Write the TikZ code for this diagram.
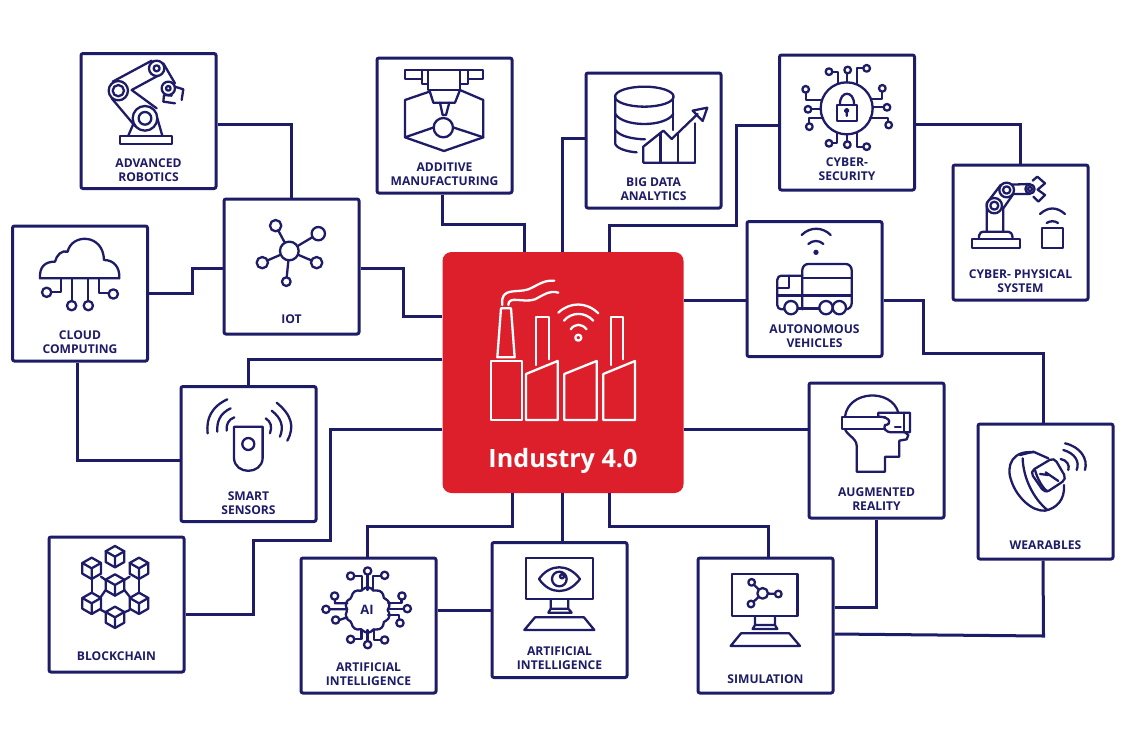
\documentclass[tikz,border=0pt]{standalone}
\usepackage{fontspec}
\setmainfont{Open Sans}
\usepackage{tikz}
\usetikzlibrary{positioning}
\definecolor{navy}{HTML}{1E1C66}
\definecolor{hubred}{HTML}{DC1F2B}
\tikzstyle{tile}=[draw=navy, fill=white, line width=3pt, minimum size=135pt, rounded corners=2pt, inner sep=0pt]
\tikzstyle{hubtile}=[fill=hubred, minimum size=241pt, rounded corners=9pt, inner sep=0pt]
\tikzstyle{link}=[draw=navy, line width=3pt, line join=miter]
\tikzstyle{caption}=[text=navy, font=\fontsize{12.1}{14.3}\selectfont\bfseries, align=center, inner sep=0pt, outer sep=0pt]
\tikzstyle{icon}=[draw=navy, line width=2.3pt, line join=round, line cap=round]
\tikzstyle{hubicon}=[draw=white, line width=2.3pt, line join=round, line cap=round]
\tikzstyle{iconframe}=[shift={(#1)}, x=0.3333pt, y=-0.3333pt]

\begin{document}
\begin{tikzpicture}[x=1pt, y=-1pt]
  \useasboundingbox[fill=white] (0,0) rectangle (1123,748);

  \node[hubtile] (hub) at (563,372.5) {};
  \node[tile] (robotics) at (148.5,121) {};
  \node[tile] (iot) at (291.5,266.5) {};
  \node[tile] (cloud) at (80,293.5) {};
  \node[tile] (additive) at (444.5,125.5) {};
  \node[tile] (bigdata) at (653.5,140.5) {};
  \node[tile] (cyber) at (847,122.5) {};
  \node[tile] (physical) at (1020.5,232.5) {};
  \node[tile] (vehicles) at (814.5,289) {};
  \node[tile] (reality) at (876.5,450.5) {};
  \node[tile] (wearables) at (1045.5,491.5) {};
  \node[tile] (simulation) at (765.5,625.5) {};
  \node[tile] (vision) at (559.5,610) {};
  \node[tile] (brain) at (368.5,625.5) {};
  \node[tile] (chain) at (116.5,604.5) {};
  \node[tile] (sensors) at (248.5,454) {};

  \node[caption, above=8.5pt of robotics.south] (roboticscap) {ADVANCED\\ROBOTICS};
  \node[caption, above=12pt of iot.south] (iotcap) {IOT};
  \node[caption, above=9pt of cloud.south] (cloudcap) {CLOUD\\COMPUTING};
  \node[caption, above=9pt of additive.south] (additivecap) {ADDITIVE\\MANUFACTURING};
  \node[caption, above=8.5pt of bigdata.south] (bigdatacap) {BIG DATA\\ANALYTICS};
  \node[caption, above=11pt of cyber.south] (cybercap) {CYBER-\\SECURITY};
  \node[caption, above=9pt of physical.south] (physicalcap) {CYBER- PHYSICAL\\SYSTEM};
  \node[caption, above=10pt of vehicles.south] (vehiclescap) {AUTONOMOUS\\VEHICLES};
  \node[caption, above=9pt of reality.south] (realitycap) {AUGMENTED\\REALITY};
  \node[caption, above=11pt of wearables.south] (wearablescap) {WEARABLES};
  \node[caption, above=11pt of simulation.south] (simulationcap) {SIMULATION};
  \node[caption, above=9pt of vision.south] (visioncap) {ARTIFICIAL\\INTELLIGENCE};
  \node[caption, above=9pt of brain.south] (braincap) {ARTIFICIAL\\INTELLIGENCE};
  \node[caption, above=12.5pt of chain.south] (chaincap) {BLOCKCHAIN};
  \node[caption, above=8pt of sensors.south] (sensorscap) {SMART\\SENSORS};
  \node[above=19.5pt of hub.south, inner sep=0pt, text=white, font=\fontsize{25.2}{28}\selectfont\bfseries] (hubcap) {Industry 4.0};

  \draw[link] ([yshift=-3pt]robotics.east) -| (iot.north);
  \draw[link] (cloud.east) -- ++(43,0) |- ([yshift=-1.5pt]iot.west);
  \draw[link] ([yshift=-1.5pt]iot.east) -- ++(43,0) |- ([yshift=56.5pt]hub.west);
  \draw[link] ([xshift=-2.5pt]additive.south) -- ++(0,30) -| ([xshift=-39pt]hub.north);
  \draw[link] ([yshift=2.5pt]bigdata.west) -| ([xshift=-1pt]hub.north);
  \draw[link] ([yshift=-2.5pt]cyber.west) -- ++(-42,0) -- ++(0,100) -| ([xshift=46pt]hub.north);
  \draw[link] ([yshift=-1.5pt]cyber.east) -| (physical.north);
  \draw[link] ([yshift=-11pt]vehicles.west) -- ([yshift=72.5pt]hub.east);
  \draw[link] ([yshift=-11pt]vehicles.east) -- ++(40,0) -- ++(0,53) -| ([xshift=-2.5pt]wearables.north);
  \draw[link] ([yshift=21.5pt]reality.west) -- ([yshift=-56.5pt]hub.east);
  \draw[link] ([yshift=13.5pt]hub.west) -| (sensors.north);
  \draw[link] ([yshift=-56.5pt]hub.west) -- ++(-112,0) -- ++(0,111) -- ++(-77,0) |- ([yshift=-9.5pt]chain.east);
  \draw[link] ([xshift=-3pt]cloud.south) |- ([yshift=-6pt]sensors.west);
  \draw[link] ([xshift=-51pt]hub.south) -- ++(0,33) -| ([xshift=-1.5pt]brain.north);
  \draw[link] ([xshift=-1pt]hub.south) -- ([xshift=2.5pt]vision.north);
  \draw[link] ([xshift=46pt]hub.south) -- ++(0,33) -| ([xshift=2.5pt]simulation.north);
  \draw[link] ([yshift=15.5pt]brain.east) -- (vision.west);
  \draw[link] ([yshift=18.5pt]simulation.east) -| (reality.south);
  \draw[link] ([yshift=-8.5pt]simulation.east) -- ++(209,2) -- ([xshift=-2.5pt]wearables.south);

  % robot arm
  \begin{scope}[iconframe={0,40}]
    \draw[icon] (360,287) rectangle (515,312);
    \draw[icon] (385,287) -- (405,240) (487,287) -- (472,235);
    \draw[icon] (338,125) -- (455,62) (395,150) -- (478,105);
    \draw[icon] (335,175) -- (405,258) (395,150) -- (470,205);
    \draw[icon] (490,70) -- (525,130);
    \draw[icon, fill=white] (505,145) circle (20);
    \draw[icon] (505,145) circle (7);
    \draw[icon, fill=white] (435,235) circle (37);
    \draw[icon] (435,235) circle (19);
    \draw[icon, fill=white] (355,152) circle (29);
    \draw[icon] (355,152) circle (17);
    \draw[icon, fill=white] (470,85) circle (23);
    \draw[icon] (470,85) circle (9);
    \draw[icon] (515,167) -- (492,165) -- (490,185) -- (525,190);
    \draw[icon] (525,140) -- (550,148) -- (545,180);
  \end{scope}

  % network
  \begin{scope}[iconframe={0,40}]
    \draw[icon] (868,633) -- (827,557) (868,633) -- (955,581) (868,633) -- (787,668);
    \draw[icon] (868,633) -- (950,668) (868,633) -- (859,725);
    \foreach \px/\py/\pr in {868/633/28, 827/557/17, 955/581/20, 787/668/17, 950/668/17, 859/725/13}
      \draw[icon, fill=white] (\px,\py) circle (\pr);
  \end{scope}

  % cloud
  \begin{scope}[iconframe={0,40}]
    \draw[icon] (120,715) -- (358,715) .. controls (360,680) and (340,660) .. (312,660)
      .. controls (310,580) and (215,580) .. (203,635) .. controls (185,630) and (170,645) .. (165,665)
      .. controls (135,665) and (118,680) .. (120,715) -- cycle;
    \draw[icon] (183,715) -- (183,757) -- (153,757) (217,715) -- (217,783);
    \draw[icon] (265,715) -- (265,783) (297,715) -- (297,760) -- (326,760);
    \foreach \px/\py in {140/757, 215/797, 265/797, 340/762}
      \draw[icon] (\px,\py) circle (14);
  \end{scope}

  % printer
  \begin{scope}[iconframe={370,40}]
    \draw[icon] (105,90) rectangle (340,118);
    \draw[icon, fill=white] (155,90) -- (155,132) -- (295,132) -- (295,90) -- cycle;
    \draw[icon, fill=white] (175,90) rectangle (270,150);
    \draw[icon] (178,150) -- (190,188) -- (255,188) -- (270,150);
    \draw[icon] (210,188) -- (218,225) -- (228,225) -- (238,188);
    \draw[icon] (220,263) circle (29);
    \draw[icon] (178,155) -- (105,180) -- (105,292) -- (222,333) -- (340,292) -- (340,180) -- (270,150);
    \draw[icon] (105,292) -- (192,262) (340,292) -- (249,262);
  \end{scope}

  % database
  \begin{scope}[iconframe={370,40}]
    \draw[icon] (823,170) ellipse (88 and 30);
    \draw[icon] (736,170) -- (736,312) .. controls (740,325) and (770,335) .. (800,337);
    \draw[icon] (910,170) -- (910,270);
    \draw[icon] (736,222) .. controls (760,262) and (885,262) .. (910,222);
    \draw[icon] (736,270) .. controls (750,290) and (790,297) .. (825,298);
    \draw[icon] (820,368) -- (975,368) (820,368) -- (820,320) -- (880,272) -- (905,297) -- (983,222);
    \draw[icon] (968,212) -- (1012,203) -- (998,243) -- cycle;
    \draw[icon] (872,280) -- (872,368) (925,280) -- (925,368) (975,250) -- (975,368);
  \end{scope}

  % padlock
  \begin{scope}[iconframe={740,40}]
    \draw[icon] (320,205) circle (78);
    \draw[icon] (292,195) rectangle (350,242);
    \draw[icon] (300,195) .. controls (298,150) and (344,150) .. (342,195);
    \draw[icon] (320,212) circle (5) (320,217) -- (320,228);
    \draw[icon] (320,127) -- (320,100) (293,130) -- (293,97) -- (278,97) (350,130) -- (350,85) -- (369,85);
    \draw[icon] (320,283) -- (320,304) (292,280) -- (292,310) -- (278,310) (350,280) -- (350,320) -- (369,320);
    \draw[icon] (243,180) -- (197,180) -- (197,158) (243,208) -- (215,208) (250,235) -- (208,235) -- (208,250);
    \draw[icon] (397,178) -- (427,178) -- (427,155) (398,202) -- (430,202) (390,235) -- (445,235) -- (445,245);
    \foreach \px/\py in {323/90, 267/95, 380/85, 322/314, 267/310, 380/320, 197/148, 204/208, 208/260, 427/145, 441/202, 446/255}
      \draw[icon] (\px,\py) circle (10);
  \end{scope}

  % small arm and tagged box
  \begin{scope}[iconframe={740,40}]
    \draw[icon] (695,597) rectangle (840,625);
    \draw[icon] (717,597) -- (717,587) .. controls (717,578) and (725,575) .. (735,575) -- (800,575)
      .. controls (812,575) and (818,580) .. (818,597);
    \draw[icon] (740,575) -- (740,490) -- (782,435) -- (870,432) (790,575) -- (790,505) -- (820,462) -- (870,462);
    \draw[icon, fill=white] (763,497) circle (23);
    \draw[icon] (763,497) circle (12);
    \draw[icon, fill=white] (800,450) circle (22);
    \draw[icon] (800,450) circle (11);
    \draw[icon, fill=white] (870,447) circle (14);
    \draw[icon] (870,447) circle (6);
    \draw[icon] (878,422) -- (892,410) -- (915,430) -- (893,449) -- (915,465) -- (895,485) -- (880,470);
    \draw[icon] (905,565) rectangle (968,625);
    \draw[icon] (920,549) .. controls (930,542) and (945,542) .. (954,549);
    \draw[icon] (900,522) .. controls (925,500) and (950,500) .. (975,522);
  \end{scope}

  % truck
  \begin{scope}[iconframe={740,40}]
    \fill[navy] (228,637) circle (8);
    \draw[icon] (205,612) .. controls (218,600) and (238,600) .. (250,612);
    \draw[icon] (185,585) .. controls (210,560) and (247,560) .. (272,585);
    \draw[icon, rounded corners=6pt] (187,808) -- (187,672) -- (335,672) -- (335,808) -- (320,808);
    \draw[icon] (187,715) -- (335,715) (187,767) -- (335,767);
    \draw[icon, rounded corners=4pt] (187,707) -- (112,707) -- (112,808) -- (135,808);
    \draw[icon] (148,707) -- (148,745) -- (112,745) (112,767) -- (187,767);
    \draw[icon] (172,806) -- (238,806);
    \foreach \px in {153,258,298}
      \draw[icon, fill=white] (\px,803) circle (20);
  \end{scope}

  % factory
  \begin{scope}[iconframe={440,250}]
    \draw[hubicon] (172,322) -- (183,175) -- (213,175) -- (224,322) -- cycle;
    \draw[hubicon] (152,333) rectangle (245,510);
    \draw[hubicon] (258,510) -- (258,372) -- (353,333) -- (353,510) -- cycle;
    \draw[hubicon] (373,510) -- (373,372) -- (470,333) -- (470,510) -- cycle;
    \draw[hubicon] (490,510) -- (490,372) -- (585,333) -- (585,510) -- cycle;
    \draw[hubicon] (287,345) -- (287,200) -- (327,200) -- (327,328);
    \draw[hubicon] (512,345) -- (512,200) -- (550,200) -- (550,328);
    \draw[hubicon] (187,165) .. controls (180,110) and (230,130) .. (265,118) .. controls (295,105) and (310,90) .. (343,92);
    \draw[hubicon] (205,165) .. controls (205,135) and (250,160) .. (285,148) .. controls (310,135) and (330,120) .. (355,128);
    \draw[hubicon] (415,263) circle (9);
    \draw[hubicon] (392,238) .. controls (405,220) and (425,220) .. (440,238);
    \draw[hubicon] (372,212) .. controls (395,185) and (435,185) .. (460,212);
    \draw[hubicon] (355,188) .. controls (390,155) and (440,155) .. (475,190);
  \end{scope}

  % sensor
  \begin{scope}[iconframe={40,380}]
    \draw[icon] (582,140) -- (668,140) -- (668,235) .. controls (665,285) and (585,285) .. (582,235) -- cycle;
    \draw[icon] (625,192) circle (18);
    \draw[icon] (583,112) .. controls (565,118) and (558,135) .. (560,152);
    \draw[icon] (572,85) .. controls (540,100) and (530,125) .. (532,155);
    \draw[icon] (562,58) .. controls (515,80) and (498,115) .. (503,160);
    \draw[icon] (677,115) .. controls (693,125) and (697,140) .. (690,160);
    \draw[icon] (695,92) .. controls (725,115) and (732,140) .. (720,170);
    \draw[icon] (710,68) .. controls (755,105) and (765,140) .. (742,182);
  \end{scope}

  % cubes
  \begin{scope}[iconframe={40,380}]
    \draw[icon] (155,595) -- (155,640) (297,595) -- (297,640);
    \draw[icon] (183,590) -- (197,600) (253,600) -- (269,590) (183,650) -- (197,630);
    \draw[icon] (253,630) -- (269,650) (183,690) -- (197,697) (253,697) -- (269,690);
    \foreach \cx/\cy in {225/530, 155/565, 297/565, 225/615, 155/670, 297/670, 225/712} {
      \draw[icon] (\cx,\cy-32) -- ++(28,16) -- ++(0,32) -- ++(-28,16) -- ++(-28,-16) -- ++(0,-32) -- cycle;
      \draw[icon] (\cx-28,\cy-16) -- (\cx,\cy) -- (\cx+28,\cy-16) (\cx,\cy) -- (\cx,\cy+32);
    }
  \end{scope}

  % brain
  \begin{scope}[iconframe={40,380}]
    \draw[icon, fill=white, shift={(983,690)}] plot[smooth cycle, samples=49, domain=0:352.5] (\x:{60+8*abs(sin(5*\x))});
    \node[text=navy, inner sep=0pt, font=\fontsize{13}{14}\selectfont\bfseries] (brainai) at (981,690) {AI};
    \draw[icon] (983,585) -- (983,630) (967,632) -- (967,588) -- (945,588) (1000,632) -- (1000,588) -- (1022,588);
    \draw[icon] (983,750) -- (983,783) (965,748) -- (965,778) -- (945,778) (1003,748) -- (1003,780) -- (1022,780);
    \draw[icon] (922,670) -- (885,670) -- (885,660) (922,688) -- (870,688) (922,712) -- (898,720);
    \draw[icon] (1044,668) -- (1085,668) -- (1085,660) (1044,686) -- (1090,686) (1044,705) -- (1078,705) -- (1078,718);
    \foreach \px/\py in {983/573, 932/588, 1034/586, 983/794, 932/778, 1034/780, 884/648, 858/688, 887/720, 1086/648, 1102/686, 1080/729}
      \draw[icon] (\px,\py) circle (11);
  \end{scope}

  % monitor with eye
  \begin{scope}[iconframe={480,530}]
    \draw[icon] (138,83) rectangle (338,208);
    \draw[icon] (212,208) -- (212,236) -- (205,248) -- (275,248) -- (265,236) -- (265,208) (212,236) -- (265,236);
    \draw[icon] (133,300) -- (343,300) -- (312,262) -- (165,262) -- cycle;
    \draw[icon] (177,147) .. controls (210,100) and (265,100) .. (300,147) .. controls (265,195) and (210,195) .. (177,147) -- cycle;
    \draw[icon] (238,147) circle (22) (246,139) circle (6);
  \end{scope}

  % monitor with graph
  \begin{scope}[iconframe={480,530}]
    \draw[icon] (757,133) rectangle (953,258);
    \draw[icon] (825,258) -- (825,285) -- (818,297) -- (892,297) -- (885,285) -- (885,258) (825,285) -- (885,285);
    \draw[icon] (752,348) -- (960,348) -- (928,310) -- (783,310) -- cycle;
    \draw[icon] (848,190) -- (815,157) (848,190) -- (813,222) (848,190) -- (895,192);
    \draw[icon, fill=white] (848,190) circle (16);
    \draw[icon, fill=white] (815,157) circle (10);
    \draw[icon, fill=white] (813,222) circle (10);
    \draw[icon, fill=white] (895,192) circle (10);
  \end{scope}

  % headset
  \begin{scope}[iconframe={800,375}]
    \draw[icon] (135,125) .. controls (145,45) and (275,40) .. (295,113);
    \draw[icon] (135,162) .. controls (140,180) and (170,190) .. (170,212) -- (170,290) -- (255,290) -- (255,245) -- (298,245) -- (298,197) -- (320,193) -- (325,180) -- (315,172);
    \draw[icon] (255,125) -- (127,125) -- (127,162) -- (255,162);
    \draw[icon] (235,125) -- (235,113) -- (330,113) -- (330,172) -- (278,172)
      .. controls (255,172) and (250,160) .. (255,150) .. controls (275,150) and (275,125) .. (235,125) -- cycle;
    \draw[icon] (312,113) -- (312,172) (285,157) -- (302,157);
  \end{scope}

  % watch
  \begin{scope}[iconframe={800,375}]
    \draw[icon] (700,232) .. controls (640,225) and (615,270) .. (635,320) .. controls (650,365) and (695,410) .. (735,407)
      .. controls (770,400) and (795,375) .. (792,330);
    \draw[icon] (668,250) .. controls (670,310) and (700,370) .. (742,405);
    \draw[icon] (660,240) -- (700,230) -- (745,250);
    \draw[icon, fill=white, rounded corners=5pt] (762,247) -- (800,312) -- (735,355) -- (690,290) -- cycle;
    \draw[icon] (705,285) .. controls (712,310) and (725,335) .. (742,350);
    \draw[icon] (720,297) -- (745,300) -- (737,292) -- (775,318);
    \draw[icon] (782,252) .. controls (800,255) and (810,270) .. (805,285);
    \draw[icon] (790,225) .. controls (825,235) and (840,260) .. (830,285);
    \draw[icon] (795,205) .. controls (840,215) and (865,250) .. (855,285);
  \end{scope}
\end{tikzpicture}
\end{document}
